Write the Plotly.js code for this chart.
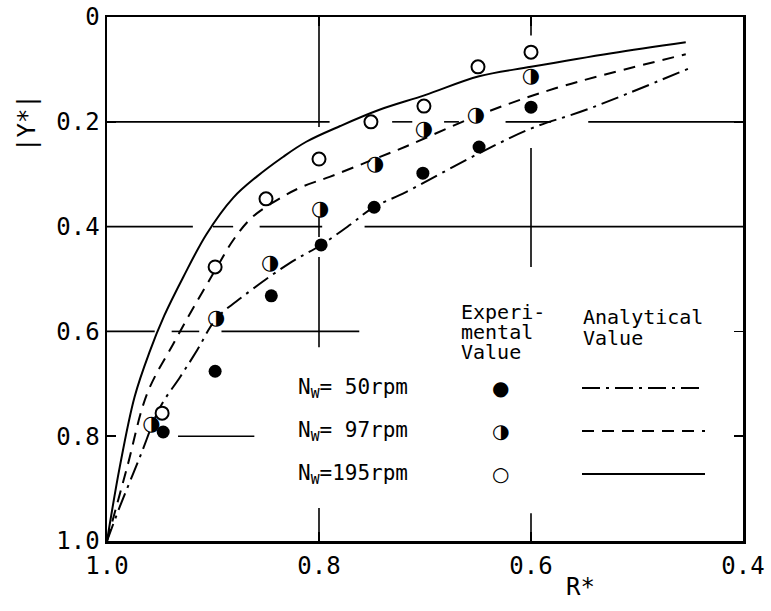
<!DOCTYPE html>
<html>
<head>
<meta charset="utf-8">
<script src="https://cdn.plot.ly/plotly-3.0.1.min.js"></script>
<style>html,body{margin:0;padding:0;background:#fff;}#chart{width:771px;height:611px;}</style>
</head>
<body>
<div id="chart"></div>
<script>
// ---- Experimental values ----
const exp50X  = [0.947, 0.898, 0.845, 0.798, 0.748, 0.702, 0.649, 0.600];
const exp50Y  = [0.792, 0.676, 0.532, 0.435, 0.363, 0.298, 0.248, 0.172];
const exp97X  = [0.958, 0.897, 0.846, 0.799, 0.747, 0.701, 0.652, 0.600];
const exp97Y  = [0.779, 0.576, 0.471, 0.367, 0.281, 0.216, 0.189, 0.113];
const exp195X = [0.948, 0.898, 0.850, 0.800, 0.751, 0.701, 0.650, 0.600];
const exp195Y = [0.756, 0.477, 0.347, 0.271, 0.200, 0.170, 0.095, 0.067];

// ---- Analytical values ----
const ana50X  = [1.0, 0.988, 0.969, 0.950, 0.931, 0.915, 0.897, 0.871, 0.828, 0.798, 0.771, 0.750, 0.718, 0.649, 0.599, 0.548, 0.452];
const ana50Y  = [1.0, 0.935, 0.840, 0.745, 0.687, 0.636, 0.576, 0.532, 0.470, 0.435, 0.397, 0.365, 0.334, 0.260, 0.212, 0.177, 0.099];
const ana97X  = [1.0, 0.981, 0.962, 0.937, 0.918, 0.897, 0.881, 0.863, 0.836, 0.816, 0.790, 0.755, 0.718, 0.649, 0.577, 0.454];
const ana97Y  = [1.0, 0.859, 0.718, 0.622, 0.553, 0.480, 0.426, 0.382, 0.345, 0.324, 0.305, 0.277, 0.247, 0.187, 0.136, 0.071];
const ana195X = [1.0, 0.988, 0.974, 0.960, 0.946, 0.928, 0.906, 0.881, 0.859, 0.834, 0.812, 0.780, 0.743, 0.700, 0.649, 0.600, 0.524, 0.454];
const ana195Y = [1.0, 0.859, 0.725, 0.640, 0.570, 0.496, 0.414, 0.345, 0.305, 0.267, 0.238, 0.208, 0.177, 0.149, 0.113, 0.095, 0.069, 0.048];

// ---- Tick labels ----
const xTickVals = [1.0, 0.8, 0.6, 0.4];
const xTickText = ["1.0", "0.8", "0.6", "0.4"];
const yTickVals = [0, 0.2, 0.4, 0.6, 0.8, 1.0];
const yTickText = ["0", "0.2", "0.4", "0.6", "0.8", "1.0"];

// ---- Legend text ----
const rowLabels = ["N<sub>W</sub>= 50rpm", "N<sub>W</sub>= 97rpm", "N<sub>W</sub>=195rpm"];

const mono = "DejaVu Sans Mono, Liberation Mono, monospace";

const lineStyle = (dash) => ({color: "#000", width: 2, dash: dash, shape: "spline", smoothing: 1.0});
const dash50 = "18px,6px,3px,6px";
const dash97 = "12px,8px";

const traces = [
  {x: ana50X, y: ana50Y, mode: "lines", line: lineStyle(dash50), hoverinfo: "skip"},
  {x: ana97X, y: ana97Y, mode: "lines", line: lineStyle(dash97), hoverinfo: "skip"},
  {x: ana195X, y: ana195Y, mode: "lines", line: lineStyle("solid"), hoverinfo: "skip"},
  {x: exp50X, y: exp50Y, mode: "markers", marker: {symbol: "circle", size: 13, color: "#000"}},
  {x: exp97X, y: exp97Y, mode: "markers", marker: {symbol: "circle", size: 12, color: "#fff", line: {width: 0}}},
  {x: exp97X, y: exp97Y, mode: "text", text: exp97X.map(() => "◑"), textposition: "middle center",
   textfont: {family: "DejaVu Sans", size: 21, color: "#000"}},
  {x: exp195X, y: exp195Y, mode: "markers", marker: {symbol: "circle", size: 13, color: "#fff", line: {color: "#000", width: 2}}}
];

// gridline segments (broken as in the original)
const shapes = [];
function hseg(y, x0, x1) { shapes.push({type: "line", xref: "x", yref: "y", x0: x0, x1: x1, y0: y, y1: y, layer: "below", line: {color: "#000", width: 1.6}}); }
function vseg(x, y0, y1) { shapes.push({type: "line", xref: "x", yref: "y", x0: x, x1: x, y0: y0, y1: y1, layer: "below", line: {color: "#000", width: 1.6}}); }
hseg(0.2, 1.0, 0.790); hseg(0.2, 0.731, 0.712); hseg(0.2, 0.682, 0.668); hseg(0.2, 0.624, 0.581); hseg(0.2, 0.546, 0.4);
hseg(0.4, 1.0, 0.919); hseg(0.4, 0.900, 0.881); hseg(0.4, 0.856, 0.797); hseg(0.4, 0.757, 0.4);
hseg(0.6, 1.0, 0.955); hseg(0.6, 0.939, 0.913); hseg(0.6, 0.892, 0.762);
hseg(0.8, 0.933, 0.861);
vseg(0.8, 0, 0.21); vseg(0.8, 0.38, 0.42); vseg(0.8, 0.458, 0.63); vseg(0.8, 0.937, 1.0);
vseg(0.6, 0, 0.035); vseg(0.6, 0.25, 0.477); vseg(0.6, 0.947, 1.0);

// legend key lines
const px = (p) => (p - 107) / 636;
const py = (p) => (541 - p) / 524;
const legRows = [388, 431, 474];
const legDash = [dash50, dash97, "solid"];
legRows.forEach((r, i) => {
  shapes.push({type: "line", xref: "paper", yref: "paper", x0: px(582), x1: px(705), y0: py(r), y1: py(r),
               line: {color: "#000", width: 2, dash: legDash[i]}});
});

const annotations = [];
function ann(text, x, y, opts) {
  annotations.push(Object.assign({text: text, xref: "paper", yref: "paper", x: x, y: y, showarrow: false,
    xanchor: "left", yanchor: "middle", font: {family: mono, size: 21, color: "#000"}}, opts || {}));
}
const hdr = {font: {family: mono, size: 20, color: "#000"}};
ann("Experi-", px(459), py(312), hdr);
ann("mental", px(459), py(332), hdr);
ann("Value", px(459), py(352), hdr);
ann("Analytical", px(581), py(317), hdr);
ann("Value", px(581), py(338), hdr);
rowLabels.forEach((t, i) => ann(t, px(296), py(legRows[i])));
const legGlyph = ["●", "◑", "○"];
legGlyph.forEach((g, i) => ann(g, px(500), py(legRows[i]), {xanchor: "center", font: {family: "DejaVu Sans", size: 20, color: "#000"}}));
// axis titles
ann("|Y*|", px(27), py(123), {xanchor: "center", textangle: -90, font: {family: mono, size: 24, color: "#000"}});
ann("R*", px(580), py(587), {xanchor: "center", font: {family: mono, size: 24, color: "#000"}});

const axisCommon = {
  showgrid: false, zeroline: false, showline: true, linecolor: "#000", linewidth: 2.5,
  mirror: "ticks", ticks: "inside", ticklen: 9, tickwidth: 1.6, tickcolor: "#000",
  tickfont: {family: mono, size: 24, color: "#000"}, fixedrange: true, ticklabeloverflow: "allow"
};

const layout = {
  width: 771, height: 611,
  margin: {l: 107, r: 28, t: 17, b: 70},
  paper_bgcolor: "#fff", plot_bgcolor: "#fff",
  showlegend: false,
  xaxis: Object.assign({}, axisCommon, {range: [1.0, 0.4], tickvals: xTickVals, ticktext: xTickText, ticklabelstandoff: 2}),
  yaxis: Object.assign({}, axisCommon, {range: [1.0, -0.0001], tickvals: yTickVals, ticktext: yTickText, ticklabelstandoff: 0}),
  shapes: shapes,
  annotations: annotations
};

Plotly.newPlot("chart", traces, layout, {displayModeBar: false, staticPlot: true});
</script>
</body>
</html>
